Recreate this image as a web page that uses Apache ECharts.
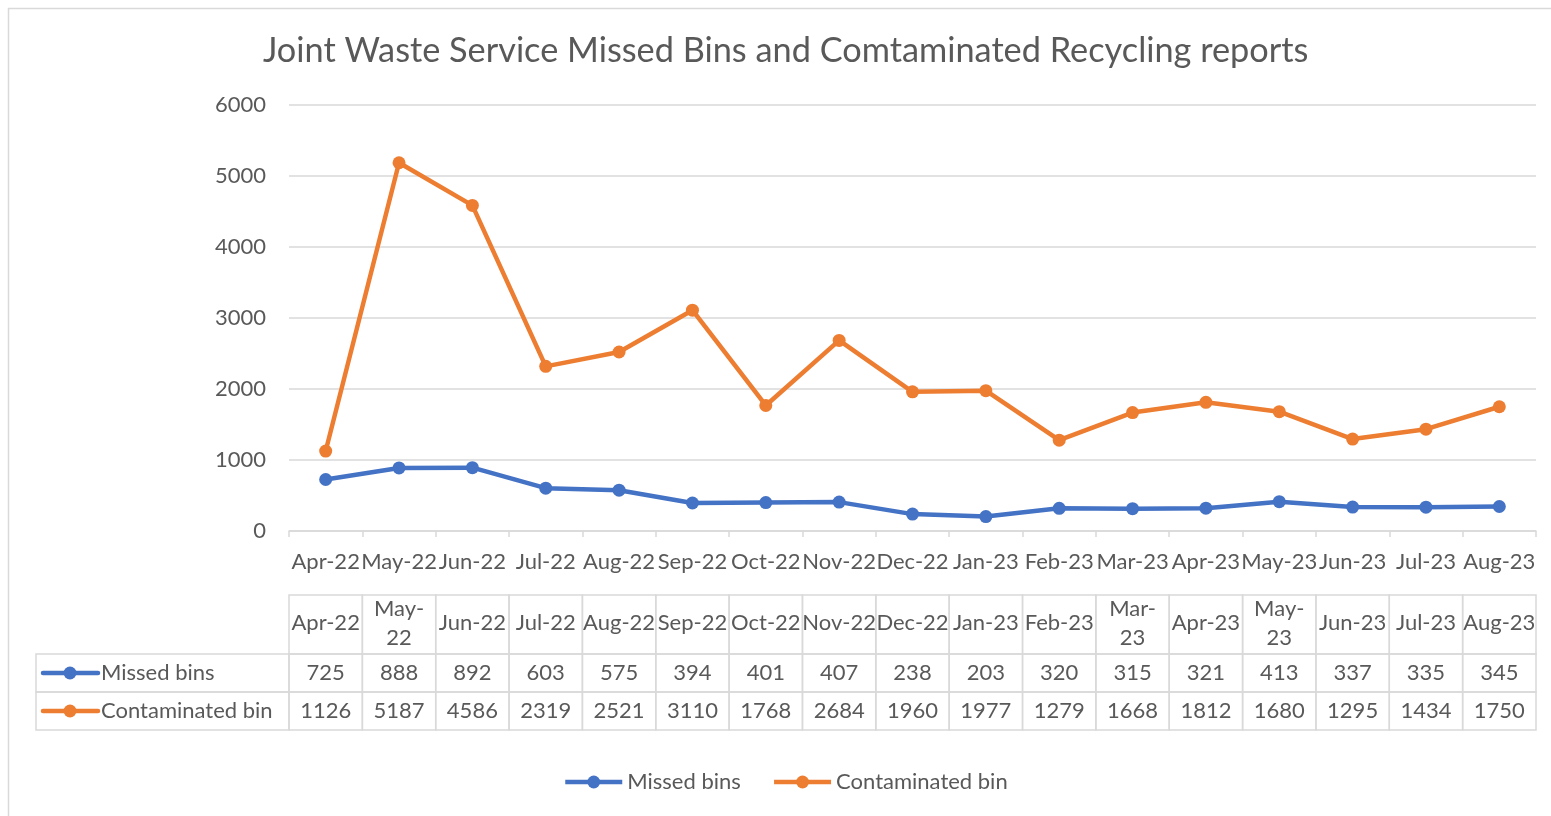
<!DOCTYPE html>
<html><head><meta charset="utf-8">
<script src="https://cdn.jsdelivr.net/npm/echarts@6/dist/echarts.min.js"></script>
<style>html,body{margin:0;padding:0;background:#fff}#c{width:1551px;height:816px}</style>
</head><body><div id="c"></div>
<script>
// ---- data ----
const categories = ['Apr-22','May-22','Jun-22','Jul-22','Aug-22','Sep-22','Oct-22','Nov-22','Dec-22','Jan-23','Feb-23','Mar-23','Apr-23','May-23','Jun-23','Jul-23','Aug-23'];
const tableHeaderLabels = ['Apr-22','May-\n22','Jun-22','Jul-22','Aug-22','Sep-22','Oct-22','Nov-22','Dec-22','Jan-23','Feb-23','Mar-\n23','Apr-23','May-\n23','Jun-23','Jul-23','Aug-23'];
const missedBins = [725,888,892,603,575,394,401,407,238,203,320,315,321,413,337,335,345];
const contaminatedBin = [1126,5187,4586,2319,2521,3110,1768,2684,1960,1977,1279,1668,1812,1680,1295,1434,1750];
const seriesNames = ['Missed bins','Contaminated bin'];
const yMin = 0, yMax = 6000, yInterval = 1000;
const titleText = 'Joint Waste Service Missed Bins and Comtaminated Recycling reports';

// ---- style / layout ----
const FONT = 'Lato';
const FS = 22;
const TEXT = '#595959';
const LINE = '#d9d9d9';
const COLORS = ['#4472C4', '#ED7D31'];
const ROW_EDGES = [0, 59, 97, 135];
const LABEL_COL_W = 253;

const seriesValues = [missedBins, contaminatedBin];
const cells = [];
categories.forEach((c, i) => { for (let r = 0; r < 3; r++) cells.push([i, r]); });

function renderCell(params, api) {
  const col = api.value(0), row = api.value(1);
  const cx = api.coord([col, 0])[0];
  const w = api.size([1, 0])[0];
  const y0 = api.coord([col, ROW_EDGES[row]])[1];
  const y1 = api.coord([col, ROW_EDGES[row + 1]])[1];
  const ym = (y0 + y1) / 2;
  const txt = row === 0 ? tableHeaderLabels[col] : String(seriesValues[row - 1][col]);
  const children = [
    { type: 'rect', shape: { x: cx - w / 2, y: y0, width: w, height: y1 - y0 },
      style: { fill: 'none', stroke: LINE, lineWidth: 1.5 } },
    { type: 'text', style: { text: txt, x: cx, y: row === 0 ? ym - 1.5 : ym, align: 'center', verticalAlign: 'middle',
      fill: TEXT, fontSize: FS, fontFamily: FONT, lineHeight: 29 } }
  ];
  if (col === 0 && row > 0) {
    const x1 = cx - w / 2, x0 = x1 - LABEL_COL_W;
    const color = COLORS[row - 1];
    children.push(
      { type: 'rect', shape: { x: x0, y: y0, width: LABEL_COL_W, height: y1 - y0 },
        style: { fill: 'none', stroke: LINE, lineWidth: 1.5 } },
      { type: 'line', shape: { x1: x0 + 7, y1: ym, x2: x0 + 62, y2: ym },
        style: { stroke: color, lineWidth: 4.5, lineCap: 'round' } },
      { type: 'circle', shape: { cx: x0 + 34, cy: ym, r: 6.5 }, style: { fill: color } },
      { type: 'text', style: { text: seriesNames[row - 1], x: x0 + 65, y: ym, align: 'left',
        verticalAlign: 'middle', fill: TEXT, fontSize: FS, fontFamily: FONT } }
    );
  }
  return { type: 'group', children };
}

const chart = echarts.init(document.getElementById('c'), null, { renderer: 'canvas' });
chart.setOption({
  animation: false,
  backgroundColor: '#fff',
  textStyle: { fontFamily: FONT, color: TEXT },
  title: { text: titleText, left: 258, top: 29,
    textStyle: { fontFamily: FONT, fontSize: 34.3, fontWeight: 'normal', color: TEXT } },
  graphic: [{ type: 'rect', left: 6, top: 6, z: -10, silent: true,
    shape: { width: 1600, height: 900 }, style: { fill: 'none', stroke: LINE, lineWidth: 1.5 } }],
  legend: { data: seriesNames, bottom: 18, left: 558, itemWidth: 57, itemHeight: 16, itemGap: 31,
    lineStyle: { width: 4.5 },
    textStyle: { fontFamily: FONT, fontSize: FS, color: TEXT } },
  grid: [
    { left: 289, right: 15, top: 105, bottom: 285 },
    { left: 289, right: 15, top: 595, bottom: 86 }
  ],
  xAxis: [
    { type: 'category', gridIndex: 0, data: categories, boundaryGap: true,
      axisLine: { lineStyle: { color: LINE, width: 1.5 } },
      axisTick: { show: true, length: 6, lineStyle: { color: LINE, width: 1.5 } },
      axisLabel: { interval: 0, margin: 20, fontSize: FS, fontFamily: FONT, color: TEXT } },
    { type: 'category', gridIndex: 1, data: categories, boundaryGap: true, show: false }
  ],
  yAxis: [
    { type: 'value', gridIndex: 0, min: yMin, max: yMax, interval: yInterval,
      axisLine: { show: false }, axisTick: { show: false },
      splitLine: { lineStyle: { color: LINE, width: 1.5 } },
      axisLabel: { margin: 23, fontSize: FS, fontFamily: FONT, color: TEXT, formatter: v => String(v) } },
    { type: 'value', gridIndex: 1, min: ROW_EDGES[0], max: ROW_EDGES[3], inverse: true, show: false }
  ],
  series: [
    { name: seriesNames[0], type: 'line', data: missedBins, xAxisIndex: 0, yAxisIndex: 0,
      color: COLORS[0], symbol: 'circle', symbolSize: 13, lineStyle: { width: 4.5 } },
    { name: seriesNames[1], type: 'line', data: contaminatedBin, xAxisIndex: 0, yAxisIndex: 0,
      color: COLORS[1], symbol: 'circle', symbolSize: 13, lineStyle: { width: 4.5 } },
    { name: 'table', type: 'custom', xAxisIndex: 1, yAxisIndex: 1, data: cells,
      renderItem: renderCell, silent: true, clip: false }
  ]
});
</script></body></html>
